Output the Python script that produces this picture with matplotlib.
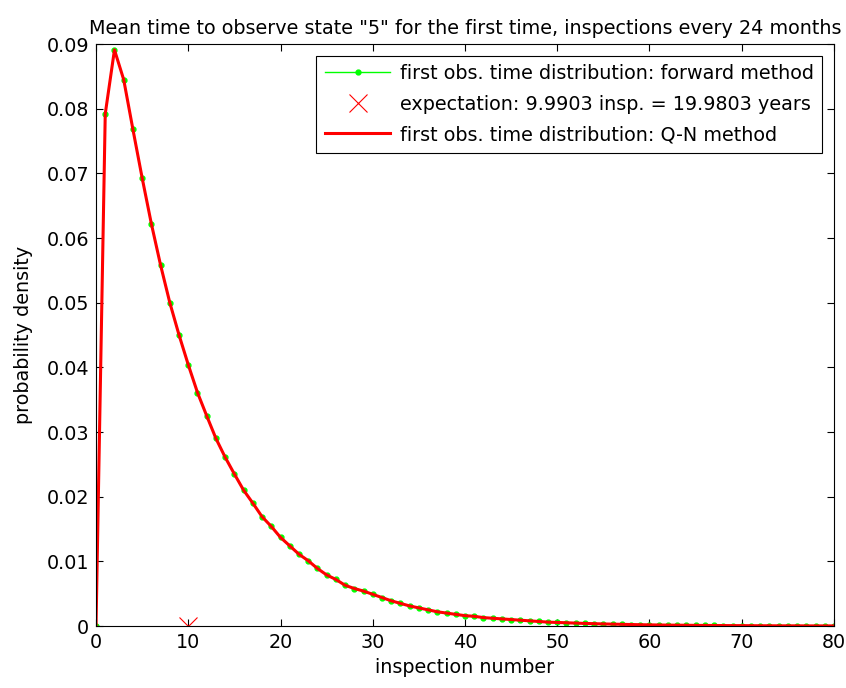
import matplotlib
matplotlib.use("Agg")
import matplotlib.pyplot as plt
import numpy as np

plt.rcParams['font.family'] = ['DejaVu Sans']

inspections = list(range(0, 81))
forward_density = [
    0.0, 0.0792, 0.0891, 0.0845, 0.0768, 0.0693, 0.0622, 0.0558, 0.0500, 0.0450,
    0.0404, 0.0361, 0.0325, 0.0290, 0.0261, 0.0235, 0.0210, 0.0190, 0.0169, 0.0154,
    0.0137, 0.0124, 0.0111, 0.0101, 0.0089, 0.0079, 0.0072, 0.0063, 0.0058, 0.0054,
    0.0049, 0.0044, 0.0039, 0.0035, 0.0031, 0.0028, 0.0025, 0.0022, 0.0020, 0.0018,
    0.0016, 0.0015, 0.0013, 0.0012, 0.0011, 0.0010, 0.0009, 0.0008, 0.0007, 0.0006,
    0.00055, 0.0005, 0.00045, 0.0004, 0.00036, 0.00032, 0.00029, 0.00026, 0.00023, 0.0002,
    0.00018, 0.00016, 0.00014, 0.00013, 0.00012, 0.0001, 0.00009, 0.00008, 0.00007, 0.00006,
    0.00006, 0.00005, 0.00004, 0.00004, 0.00003, 0.00003, 0.00003, 0.00002, 0.00002, 0.00002,
    0.00002,
]
qn_density = list(forward_density)
expectation_insp = 9.9903
expectation_years = 19.9803

FS = 13.8

fig = plt.figure(figsize=(8.46, 6.88), dpi=100)
ax = fig.add_axes([0.1135, 0.0901, 0.8723, 0.8459])

ax.plot(inspections, forward_density, color=(0, 1, 0), lw=1, marker='.', markersize=7,
        label='first obs. time distribution: forward method')
ax.plot([expectation_insp], [0], linestyle='none', marker='x', color='red',
        markersize=13, markeredgewidth=0.8,
        label='expectation: %.4f insp. = %.4f years' % (expectation_insp, expectation_years))
ax.plot(inspections, qn_density, color='red', lw=2.2,
        label='first obs. time distribution: Q-N method')

ax.set_xlim(0, 80)
ax.set_ylim(0, 0.09)
ax.set_xticks(np.arange(0, 81, 10))
yt = np.round(np.arange(0, 0.0901, 0.01), 2)
ax.set_yticks(yt)
ax.set_yticklabels(['0'] + ['%.2f' % v for v in yt[1:]])
ax.tick_params(direction='in', top=True, right=True, length=5, labelsize=FS, pad=5)
for s in ax.spines.values():
    s.set_linewidth(0.8)

ax.set_xlabel('inspection number', fontsize=FS, labelpad=4)
ax.set_ylabel('probability density', fontsize=FS, labelpad=10)
ax.set_title('Mean time to observe state "5" for the first time, inspections every 24 months',
             fontsize=FS, pad=7)

leg = ax.legend(loc='upper right', fontsize=FS, frameon=True, fancybox=False,
                edgecolor='black', framealpha=1, borderpad=0.45, handlelength=3.4,
                labelspacing=0.6, borderaxespad=0.6, handletextpad=0.5)
leg.get_frame().set_linewidth(0.8)

fig.savefig('out.png', dpi=100)
